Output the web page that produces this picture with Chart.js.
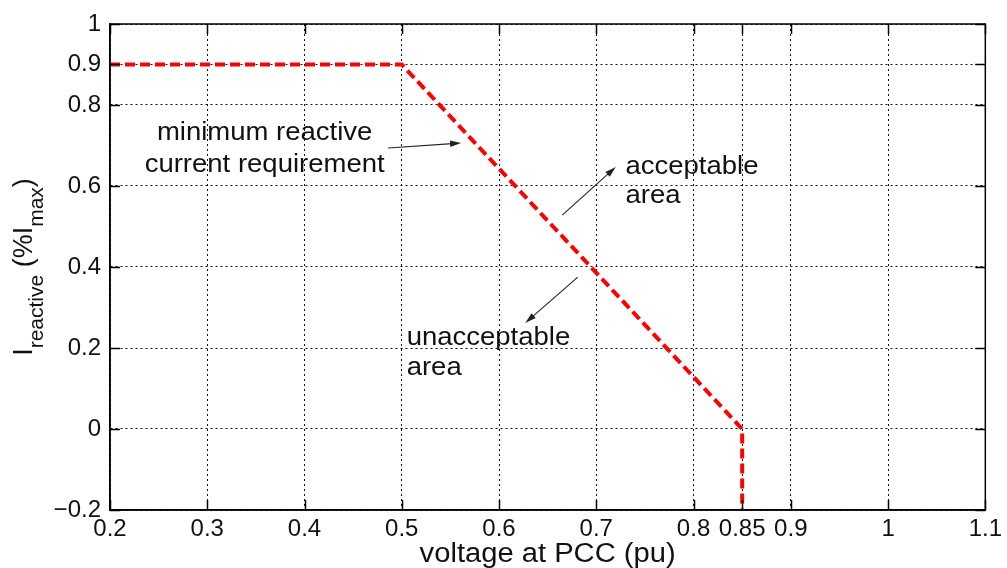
<!DOCTYPE html>
<html>
<head>
<meta charset="utf-8">
<script src="https://cdn.jsdelivr.net/npm/chart.js@4/dist/chart.umd.min.js"></script>
<style>
  html, body { margin: 0; padding: 0; background: #fff; }
  #wrap { width: 1007px; height: 568px; }
</style>
</head>
<body>
<div id="wrap"><canvas id="reqChart"></canvas></div>
<script>
// Reactive current requirement vs voltage at PCC
const voltage = [0.2, 0.5, 0.85, 0.85];
const currentReq = [0.9, 0.9, 0, -0.2];

const xTickValues = [0.2, 0.3, 0.4, 0.5, 0.6, 0.7, 0.8, 0.85, 0.9, 1, 1.1];
const xTickLabels = ['0.2', '0.3', '0.4', '0.5', '0.6', '0.7', '0.8', '0.85', '0.9', '1', '1.1'];
const yTickValues = [-0.2, 0, 0.2, 0.4, 0.6, 0.8, 0.9, 1];
const yTickLabels = ['\u22120.2', '0', '0.2', '0.4', '0.6', '0.8', '0.9', '1'];

const FONT = "'Liberation Sans', Arial, Helvetica, sans-serif";

// text notes and arrows, placed in data units
const notes = [
  { lines: ['minimum reactive', 'current requirement'], x: 0.359, y: [0.714, 0.635], align: 'center' },
  { lines: ['acceptable', 'area'], x: 0.730, y: [0.630, 0.558], align: 'left' },
  { lines: ['unacceptable', 'area'], x: 0.505, y: [0.207, 0.133], align: 'left' }
];
const arrows = [
  { from: [0.486, 0.694], to: [0.561, 0.706] },
  { from: [0.665, 0.528], to: [0.720, 0.647] },
  { from: [0.681, 0.375], to: [0.627, 0.262] }
];

function drawArrow(ctx, x1, y1, x2, y2) {
  const ang = Math.atan2(y2 - y1, x2 - x1);
  const len = 11, half = 3.2;
  ctx.beginPath();
  ctx.moveTo(x1, y1);
  ctx.lineTo(x2 - Math.cos(ang) * len * 0.8, y2 - Math.sin(ang) * len * 0.8);
  ctx.stroke();
  ctx.beginPath();
  ctx.moveTo(x2, y2);
  ctx.lineTo(x2 - Math.cos(ang) * len - Math.sin(ang) * half, y2 - Math.sin(ang) * len + Math.cos(ang) * half);
  ctx.lineTo(x2 - Math.cos(ang) * len + Math.sin(ang) * half, y2 - Math.sin(ang) * len - Math.cos(ang) * half);
  ctx.closePath();
  ctx.fill();
}

// draws the matlab style box, inward ticks, notes and axis titles
const extrasPlugin = {
  id: 'extras',
  afterDraw(chart) {
    const { ctx, chartArea: a, scales: { x, y } } = chart;
    ctx.save();
    ctx.setLineDash([]);
    ctx.strokeStyle = '#000';
    ctx.lineWidth = 1.5;
    ctx.strokeRect(a.left, a.top, a.right - a.left, a.bottom - a.top);

    ctx.beginPath();
    xTickValues.forEach(v => {
      const px = Math.round(x.getPixelForValue(v)) + 0.5;
      ctx.moveTo(px, a.bottom); ctx.lineTo(px, a.bottom - 10);
      ctx.moveTo(px, a.top); ctx.lineTo(px, a.top + 10);
    });
    yTickValues.forEach(v => {
      const py = Math.round(y.getPixelForValue(v)) + 0.5;
      ctx.moveTo(a.left, py); ctx.lineTo(a.left + 10, py);
      ctx.moveTo(a.right, py); ctx.lineTo(a.right - 10, py);
    });
    ctx.stroke();

    // arrows
    ctx.strokeStyle = '#222';
    ctx.fillStyle = '#222';
    ctx.lineWidth = 1.1;
    arrows.forEach(ar => {
      drawArrow(ctx,
        x.getPixelForValue(ar.from[0]), y.getPixelForValue(ar.from[1]),
        x.getPixelForValue(ar.to[0]), y.getPixelForValue(ar.to[1]));
    });

    // notes, slightly widened like the source figure
    ctx.fillStyle = '#111';
    ctx.font = '25px ' + FONT;
    ctx.textBaseline = 'alphabetic';
    notes.forEach(n => {
      const px = x.getPixelForValue(n.x);
      n.lines.forEach((line, i) => {
        const py = y.getPixelForValue(n.y[i]);
        ctx.save();
        ctx.translate(px, py);
        ctx.scale(1.1, 1);
        ctx.textAlign = n.align;
        ctx.fillText(line, 0, 0);
        ctx.restore();
      });
    });

    // x axis title
    ctx.save();
    ctx.translate((a.left + a.right) / 2, 562);
    ctx.scale(1.08, 1);
    ctx.font = '27px ' + FONT;
    ctx.textAlign = 'center';
    ctx.fillText('voltage at PCC (pu)', 0, 0);
    ctx.restore();

    // y axis title with subscripts
    const parts = [
      ['I', 27, 0], ['reactive', 21, 11], [' (%I', 27, 0], ['max', 21, 11], [')', 27, 0]
    ];
    let total = 0;
    parts.forEach(p => { ctx.font = p[1] + 'px ' + FONT; total += ctx.measureText(p[0]).width; });
    ctx.save();
    ctx.translate(32, (a.top + a.bottom) / 2);
    ctx.rotate(-Math.PI / 2);
    ctx.textAlign = 'left';
    let cx = -total / 2;
    parts.forEach(p => {
      ctx.font = p[1] + 'px ' + FONT;
      ctx.fillText(p[0], cx, p[2]);
      cx += ctx.measureText(p[0]).width;
    });
    ctx.restore();

    ctx.restore();
  }
};

const points = voltage.map((v, i) => ({ x: v, y: currentReq[i] }));

new Chart(document.getElementById('reqChart'), {
  type: 'line',
  data: {
    datasets: [{
      label: 'minimum reactive current requirement',
      data: points,
      borderColor: '#ff0000',
      borderWidth: 4,
      borderDash: [10, 5],
      pointRadius: 0,
      tension: 0,
      fill: false
    }]
  },
  options: {
    responsive: true,
    maintainAspectRatio: false,
    animation: false,
    layout: { padding: { top: 24, right: 17, left: 0, bottom: 0 } },
    plugins: { legend: { display: false }, tooltip: { enabled: false } },
    scales: {
      x: {
        type: 'linear',
        min: 0.2,
        max: 1.1,
        afterBuildTicks: scale => { scale.ticks = xTickValues.map(v => ({ value: v })); },
        afterFit: scale => { scale.height = 58; },
        ticks: {
          autoSkip: false,
          maxRotation: 0,
          padding: 5,
          color: '#111',
          font: { family: FONT, size: 24 },
          callback: (value, index) => xTickLabels[index]
        },
        grid: { color: '#111', lineWidth: 1, drawTicks: false },
        border: { display: true, color: '#000', width: 1.5, dash: [2, 3] }
      },
      y: {
        type: 'linear',
        min: -0.2,
        max: 1,
        afterBuildTicks: scale => { scale.ticks = yTickValues.map(v => ({ value: v })); },
        afterFit: scale => { scale.width = 110; },
        ticks: {
          autoSkip: false,
          padding: 9,
          color: '#111',
          font: { family: FONT, size: 24 },
          callback: (value, index) => yTickLabels[index]
        },
        grid: { color: '#111', lineWidth: 1, drawTicks: false },
        border: { display: true, color: '#000', width: 1.5, dash: [2, 3] }
      }
    }
  },
  plugins: [extrasPlugin]
});
</script>
</body>
</html>
